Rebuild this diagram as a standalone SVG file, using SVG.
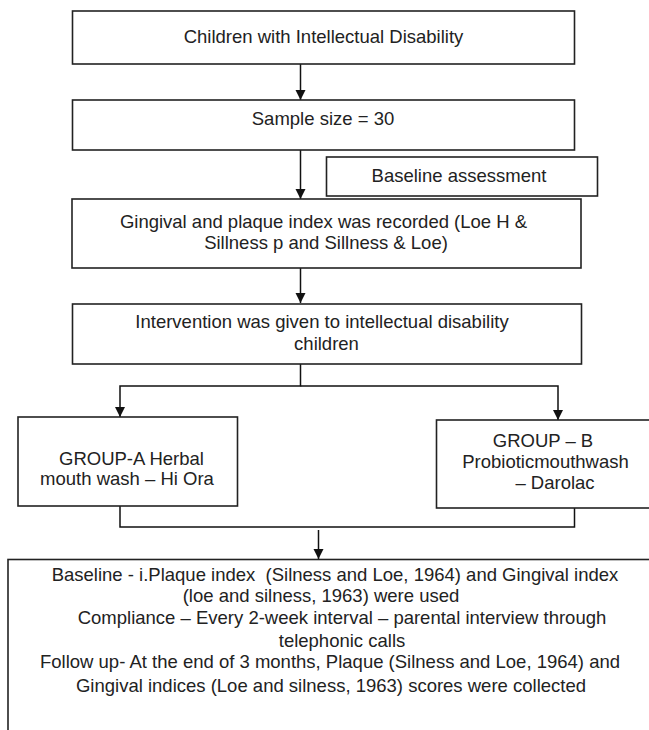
<svg xmlns="http://www.w3.org/2000/svg" width="649" height="730" viewBox="0 0 649 730">
<defs>
<marker id="ah" markerWidth="11" markerHeight="11" refX="10" refY="5" orient="auto" markerUnits="userSpaceOnUse">
<path d="M0,0 L10,5 L0,10 Z" fill="#111"/>
</marker>
<style>
.box{fill:#fff;stroke:#222;stroke-width:1.6}
.t{font-family:"Liberation Sans",Arial,sans-serif;font-size:18.5px;fill:#222;text-anchor:middle}
.c{fill:none;stroke:#111;stroke-width:1.5}
</style>
</defs>
<rect width="649" height="730" fill="#fff"/>
<g id="connectors">
<line class="c" x1="300.5" y1="64" x2="300.5" y2="100" marker-end="url(#ah)"/>
<line class="c" x1="300.5" y1="150" x2="300.5" y2="199" marker-end="url(#ah)"/>
<line class="c" x1="300.5" y1="268" x2="300.5" y2="303" marker-end="url(#ah)"/>
<polyline class="c" points="300.5,364 300.5,386 120,386 120,417" marker-end="url(#ah)"/>
<polyline class="c" points="300.5,386 558,386 558,420" marker-end="url(#ah)"/>
<polyline class="c" points="120,506 120,527 574.5,527 574.5,508"/>
<line class="c" x1="318.5" y1="530" x2="318.5" y2="559" marker-end="url(#ah)"/>
</g>
<g id="n1">
<rect class="box" x="72.5" y="11" width="502" height="53"/>
<text class="t" x="323.5" y="43">Children with Intellectual Disability</text>
</g>
<g id="n2">
<rect class="box" x="72.5" y="100" width="502" height="50"/>
<text class="t" x="323" y="125">Sample size = 30</text>
</g>
<g id="n3">
<rect class="box" x="326.5" y="157" width="271" height="39"/>
<text class="t" x="459" y="182">Baseline assessment</text>
</g>
<g id="n4">
<rect class="box" x="72" y="199" width="509" height="69"/>
<text class="t" x="323.5" y="228">Gingival and plaque index was recorded (Loe H &amp;</text>
<text class="t" x="326" y="249">Sillness p and Sillness &amp; Loe)</text>
</g>
<g id="n5">
<rect class="box" x="72.5" y="304" width="509" height="60"/>
<text class="t" x="322" y="328">Intervention was given to intellectual disability</text>
<text class="t" x="326.5" y="350">children</text>
</g>
<g id="n6">
<rect class="box" x="18" y="417" width="219.5" height="89"/>
<text class="t" x="131.5" y="465">GROUP-A Herbal</text>
<text class="t" x="127" y="485">mouth wash – Hi Ora</text>
</g>
<g id="n7">
<rect class="box" x="436.5" y="420" width="230" height="88"/>
<text class="t" x="543" y="447">GROUP – B</text>
<text class="t" x="545.5" y="468">Probioticmouthwash</text>
<text class="t" x="555" y="489">– Darolac</text>
</g>
<g id="n8">
<rect class="box" x="8" y="559.5" width="680" height="200"/>
<text class="t" x="335" y="581" style="white-space:pre">Baseline - i.Plaque index  (Silness and Loe, 1964) and Gingival index</text>
<text class="t" x="321" y="602">(loe and silness, 1963) were used</text>
<text class="t" x="342" y="624">Compliance – Every 2-week interval – parental interview through</text>
<text class="t" x="342" y="647">telephonic calls</text>
<text class="t" x="330" y="668">Follow up- At the end of 3 months, Plaque (Silness and Loe, 1964) and</text>
<text class="t" x="331" y="692">Gingival indices (Loe and silness, 1963) scores were collected</text>
</g>
</svg>
